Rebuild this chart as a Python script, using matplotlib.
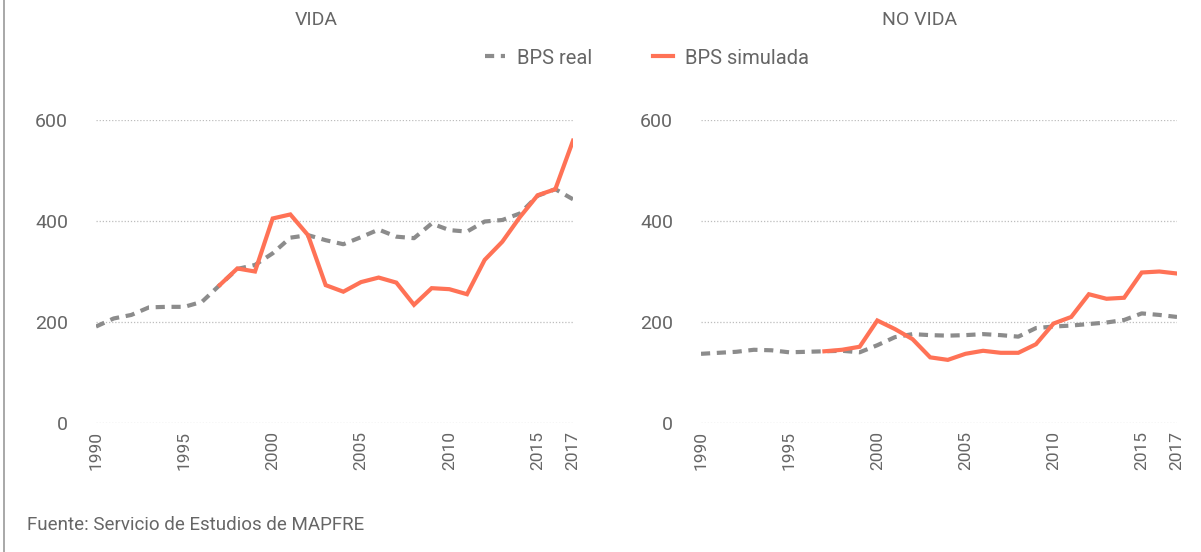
import numpy as np
import matplotlib.pyplot as plt
from matplotlib.lines import Line2D

plt.rcParams["font.family"] = ["Roboto", "DejaVu Sans"]

years = np.arange(1990, 2018)
years_sim = np.arange(1997, 2018)

vida_real = [191, 207, 214, 229, 230, 230, 240, 273, 305, 313, 336, 367, 372, 362,
             354, 368, 383, 369, 366, 395, 382, 379, 399, 402, 415, 450, 463, 443]
vida_sim = [273, 306, 300, 405, 413, 372, 273,
            260, 279, 288, 278, 234, 267, 265, 255, 323, 359, 408, 451, 463, 559]

novida_real = [137, 139, 141, 145, 144, 140, 141, 142, 143, 140, 154, 170, 176, 174,
               173, 174, 176, 174, 171, 188, 191, 193, 196, 199, 204, 217, 214, 210]
novida_sim = [142, 145, 151, 203, 186, 166, 130,
              125, 137, 143, 139, 139, 156, 197, 210, 255, 246, 248, 298, 300, 296]

xticks = [1990, 1995, 2000, 2005, 2010, 2015, 2017]
yticks = [0, 200, 400, 600]

GRAY = "#8c8c8c"
ORANGE = "#ff7256"
TXT = "#666666"

W, H = 1201, 552
fig = plt.figure(figsize=(W / 100, H / 100), dpi=100)

def px_axes(x0, x1, ytop, ybot):
    return fig.add_axes([x0 / W, 1 - ybot / H, (x1 - x0) / W, (ybot - ytop) / H])

panels = [
    (px_axes(96, 573, 120, 423), vida_real, vida_sim, "VIDA", 316),
    (px_axes(701, 1177, 120, 423), novida_real, novida_sim, "NO VIDA", 920),
]

for ax, real, sim, title, tx in panels:
    ax.plot(years, real, color=GRAY, lw=3, dashes=(2.2, 1.6), zorder=3)
    ax.plot(years_sim, sim, color=ORANGE, lw=3, zorder=4, solid_joinstyle="miter")
    ax.set_xlim(1990, 2017)
    ax.set_ylim(0, 600)
    ax.set_xticks(xticks)
    ax.set_yticks(yticks)
    ax.tick_params(axis="x", length=0, pad=6, labelsize=12.5, labelcolor=TXT,
                   labelrotation=90)
    ax.tick_params(axis="y", length=0, pad=20, labelsize=14, labelcolor=TXT)
    ax.grid(axis="y", color="#bdbdbd", lw=0.9, ls=(0, (1, 1.5)))
    for s in ax.spines.values():
        s.set_visible(False)
    ax.patch.set_alpha(0)
    fig.text(tx / W, 1 - 20 / H, title, ha="center", va="center",
             fontsize=14, color=TXT)

handles = [Line2D([], [], color=GRAY, lw=3, dashes=(2.2, 1.6)),
           Line2D([], [], color=ORANGE, lw=3)]
fig.legend(handles, ["BPS real", "BPS simulada"], loc="center",
           bbox_to_anchor=(647 / W, 1 - 58 / H), ncol=2, frameon=False,
           fontsize=14.5, labelcolor=TXT, handlelength=1.0, handletextpad=0.6,
           columnspacing=3.0)

fig.text(27 / W, 1 - 525 / H, "Fuente: Servicio de Estudios de MAPFRE",
         ha="left", va="center", fontsize=13.5, color=TXT)

fig.add_artist(Line2D([4 / W, 4 / W], [0, 1], transform=fig.transFigure,
                      color="#999999", lw=1.2))

fig.savefig("out.png", dpi=100)
